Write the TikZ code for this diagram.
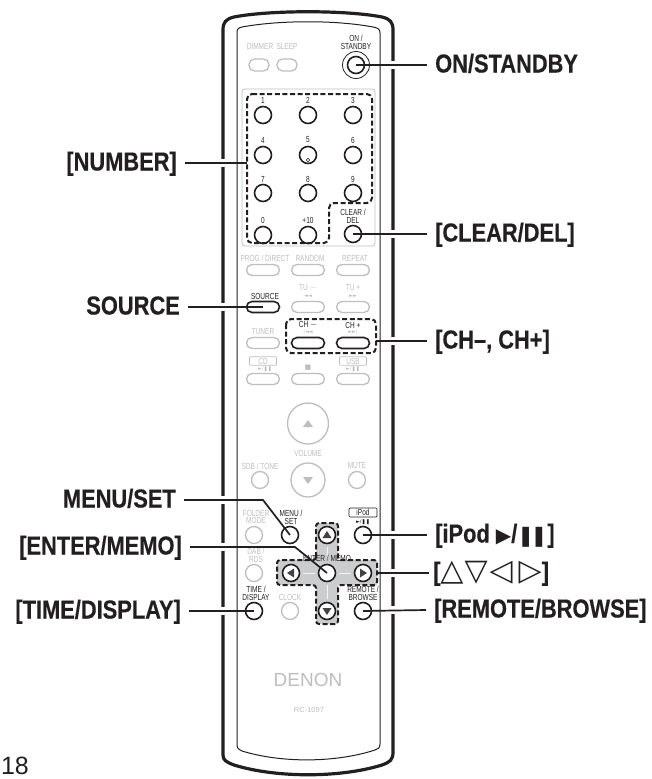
\documentclass[tikz,border=0pt]{standalone}
\usepackage{fontspec}
\usepackage{tikz}
\newfontfamily\lblfont[FakeStretch=.84,FakeBold=.4]{Liberation Sans}
\newfontfamily\tinyfont[FakeStretch=.74]{Liberation Sans}
\newfontfamily\plainfont{Liberation Sans}
\newfontfamily\symfont{DejaVu Sans}
\definecolor{inkblack}{HTML}{231F20}
\definecolor{keygrey}{HTML}{BDBEC0}
\definecolor{crossgrey}{HTML}{CBCCCE}
\tikzset{
  lbl/.style={font=\lblfont\bfseries\fontsize{26}{26}\selectfont, text=inkblack, inner ysep=0pt, inner xsep=8pt, text height=19pt, text depth=4pt},
  lblR/.style={lbl, anchor=west},
  lblL/.style={lbl, anchor=east},
  leader/.style={inkblack, line width=1.7pt},
  keytxt/.style={font=\tinyfont\fontsize{8.8}{7.9}\selectfont, text=inkblack, inner sep=0pt, align=center},
  dimtxt/.style={keytxt, text=keygrey},
  icontxt/.style={font=\symfont\fontsize{5}{6}\selectfont, text=keygrey, inner sep=0pt},
  keyon/.style={circle, draw=inkblack, fill=white, line width=1.6pt, minimum size=17pt, inner sep=0pt},
  keyoff/.style={keyon, draw=keygrey, line width=1.3pt},
  ovalon/.style={rectangle, rounded corners=5.5pt, draw=inkblack, fill=white, line width=1.6pt, minimum width=33pt, minimum height=11pt, inner sep=0pt},
  ovaloff/.style={ovalon, draw=keygrey, line width=1.3pt},
  dashbox/.style={inkblack, line width=2pt, dash pattern=on 5pt off 2.6pt, rounded corners=5pt},
  crossline/.style={draw=white!75!crossgrey, line width=1pt, shorten <=3pt, shorten >=3pt},
}
\begin{document}
\begin{tikzpicture}[x=1pt, y=-1pt]
    \useasboundingbox (0,0) rectangle (652,779);

    \draw[inkblack, line width=3.2pt] (223,755) -- (223,30) .. controls (223,22) and (226,19) .. (234,17) .. controls (270,10) and (346,10) .. (382,17) .. controls (390,19) and (393,22) .. (393,30) -- (393,752) .. controls (393,760) and (390,762) .. (382,765) .. controls (340,778) and (276,778) .. (234,765) .. controls (226,762) and (223,760) .. (223,755) -- cycle;
    \foreach \yy in {163,307,500,547,611}
        \draw[white, line width=8pt] (217,\yy) -- (229,\yy);
    \foreach \yy in {65,234,341,535,573,610}
        \draw[white, line width=8pt] (387,\yy) -- (399,\yy);
    \draw[inkblack, line width=1pt] (237,744) -- (237,33) .. controls (237,29) and (238,28) .. (242,27) .. controls (280,20) and (336,20) .. (373,27) .. controls (378,28) and (380,29) .. (380,33) -- (380,744) .. controls (380,748) and (378,749) .. (375,750) .. controls (335,763) and (281,763) .. (242,751) .. controls (238,749) and (237,748) .. (237,744) -- cycle;

    \draw[keygrey, line width=.8pt, rounded corners=3pt] (242,89) rectangle (375,246);
    \fill[crossgrey] (316,523) -- (338,523) -- (338,560) -- (377,560) -- (377,585) -- (338,585) -- (338,624) -- (316,624) -- (316,585) -- (277,585) -- (277,560) -- (316,560) -- cycle;

    \node[dimtxt] (txtDimmer) at (260,46) {DIMMER};
    \node[dimtxt] (txtSleep) at (287,46) {SLEEP};
    \node[ovaloff, minimum width=20pt, minimum height=12pt] (btnDimmer) at (259,65) {};
    \node[ovaloff, minimum width=20pt, minimum height=12pt] (btnSleep) at (287,65) {};
    \node[keytxt] (txtOn) at (356,42) {ON /\\STANDBY};
    \node[circle, draw=inkblack, line width=.8pt, minimum size=27pt, inner sep=0pt] (ringOn) at (356,65) {};
    \node[keyon] (btnOn) at (356,65) {};

    \node[keytxt] (txtOne) at (263,100) {1};
    \node[keytxt] (txtTwo) at (308,100) {2};
    \node[keytxt] (txtThree) at (353,100) {3};
    \node[keytxt] (txtFour) at (263,140) {4};
    \node[keytxt] (txtFive) at (308,140) {5};
    \node[keytxt] (txtSix) at (353,140) {6};
    \node[keytxt] (txtSeven) at (263,179) {7};
    \node[keytxt] (txtEight) at (308,179) {8};
    \node[keytxt] (txtNine) at (353,179) {9};
    \node[keytxt] (txtZero) at (263,220) {0};
    \node[keytxt] (txtTen) at (308,220) {+10};
    \node[keytxt] (txtClear) at (353,216) {CLEAR /\\DEL};
    \node[keyon] (btnOne) at (263,115) {};
    \node[keyon] (btnTwo) at (308,115) {};
    \node[keyon] (btnThree) at (353,115) {};
    \node[keyon] (btnFour) at (263,155) {};
    \node[keyon] (btnFive) at (308,155) {};
    \node[keyon] (btnSix) at (353,155) {};
    \node[keyon] (btnSeven) at (263,193) {};
    \node[keyon] (btnEight) at (308,193) {};
    \node[keyon] (btnNine) at (353,193) {};
    \node[keyon] (btnZero) at (263,235) {};
    \node[keyon] (btnTen) at (308,235) {};
    \node[keyon] (btnClear) at (353,234) {};
    \node[circle, draw=inkblack, line width=.5pt, minimum size=3.5pt, inner sep=0pt] (dotFive) at (308,160) {};
    \draw[dashbox] (247,94) -- (372,94) -- (372,203) -- (329,203) -- (329,243) -- (247,243) -- cycle;

    \node[dimtxt] (txtProg) at (265,258) {PROG / DIRECT};
    \node[dimtxt] (txtRandom) at (310,258) {RANDOM};
    \node[dimtxt] (txtRepeat) at (355,258) {REPEAT};
    \node[ovaloff] (btnProg) at (263,270) {};
    \node[ovaloff] (btnRandom) at (308,270) {};
    \node[ovaloff] (btnRepeat) at (353,270) {};

    \node[keytxt] (txtSource) at (265,296) {SOURCE};
    \node[dimtxt] (txtTuneDown) at (308,288) {TU $-$};
    \node[dimtxt] (txtTuneUp) at (353,288) {TU +};
    \node[icontxt] (iconTuneDown) at (308,296) {◄◄};
    \node[icontxt] (iconTuneUp) at (353,296) {►►};
    \node[ovalon] (btnSource) at (263,307) {};
    \node[ovaloff] (btnTuneDown) at (308,307) {};
    \node[ovaloff] (btnTuneUp) at (353,307) {};

    \node[dimtxt] (txtTuner) at (263,332) {TUNER};
    \node[keytxt] (txtChDown) at (308,325) {CH $-$};
    \node[keytxt] (txtChUp) at (353,325) {CH +};
    \node[icontxt] (iconChDown) at (308,332) {|◄◄};
    \node[icontxt] (iconChUp) at (353,332) {►►|};
    \node[ovaloff] (btnTuner) at (263,343) {};
    \node[ovalon] (btnChDown) at (308,343) {};
    \node[ovalon] (btnChUp) at (353,343) {};
    \draw[dashbox] (286,319) rectangle (376,353);
    \coordinate (chbox) at (376,341);

    \node[dimtxt, draw=keygrey, line width=.7pt, minimum width=27pt, minimum height=8.5pt, rounded corners=1pt] (txtCd) at (263,361) {CD};
    \node[dimtxt, draw=keygrey, line width=.7pt, minimum width=27pt, minimum height=8.5pt, rounded corners=1pt] (txtUsb) at (353,361) {USB};
    \node[icontxt] (iconCd) at (265,369) {►/❚❚};
    \node[icontxt, font=\symfont\fontsize{7}{7}\selectfont] (iconStop) at (308,368) {■};
    \node[icontxt] (iconUsb) at (353,369) {►/❚❚};
    \node[ovaloff] (btnCd) at (263,379) {};
    \node[ovaloff] (btnStop) at (308,379) {};
    \node[ovaloff] (btnUsb) at (353,379) {};

    \node[keyoff, minimum size=41pt] (btnVolUp) at (308,423.5) {};
    \node[dimtxt] (txtVolume) at (308,453) {VOLUME};
    \node[keyoff, minimum size=34pt] (btnVolDown) at (308,480) {};
    \fill[keygrey] (308,420) -- (313,427) -- (303,427) -- cycle;
    \fill[keygrey] (308,484) -- (313,477) -- (303,477) -- cycle;
    \node[dimtxt] (txtTone) at (260,466) {SDB / TONE};
    \node[dimtxt] (txtMute) at (357,466) {MUTE};
    \node[keyoff] (btnTone) at (260,480) {};
    \node[keyoff] (btnMute) at (357,480) {};

    \node[dimtxt] (txtFolder) at (256,517) {FOLDER\\MODE};
    \node[keytxt] (txtMenu) at (291,517) {MENU /\\SET};
    \node[keytxt, draw=inkblack, line width=.7pt, minimum width=28pt, minimum height=9pt, rounded corners=1pt] (txtIpod) at (363,512.5) {iPod};
    \node[icontxt, text=inkblack] (iconIpod) at (363,522) {►/❚❚};
    \node[keyoff] (btnFolder) at (254,535) {};
    \node[keyon] (btnMenu) at (290,535) {};
    \node[keyon] (btnIpod) at (363,535) {};

    \node[dimtxt] (txtDab) at (256,555.5) {DAB /\\RDS};
    \node[keyoff] (btnDab) at (254,573) {};
    \node[keytxt] (txtTime) at (256,593.5) {TIME /\\DISPLAY};
    \node[dimtxt] (txtClock) at (290,597) {CLOCK};
    \node[keytxt] (txtRemote) at (363,593.5) {REMOTE /\\BROWSE};
    \node[keyon] (btnTime) at (254,611) {};
    \node[keyoff] (btnClock) at (290,611) {};
    \node[keyon] (btnRemote) at (363,611) {};

    \node[keyon] (btnUp) at (327,535) {};
    \node[keyon] (btnLeft) at (291,573) {};
    \node[keyon] (btnEnter) at (327,573) {};
    \node[keyon] (btnRight) at (363,573) {};
    \node[keyon] (btnDown) at (327,611) {};
    \draw[crossline] (btnUp) -- (btnEnter);
    \draw[crossline] (btnEnter) -- (btnDown);
    \draw[crossline] (btnLeft) -- (btnEnter);
    \draw[crossline] (btnEnter) -- (btnRight);
    \fill[inkblack!85] (327,531) -- (331.5,538) -- (322.5,538) -- cycle;
    \fill[inkblack!85] (327,615) -- (331.5,608) -- (322.5,608) -- cycle;
    \fill[inkblack!85] (287,573) -- (294,568.5) -- (294,577.5) -- cycle;
    \fill[inkblack!85] (367,573) -- (360,568.5) -- (360,577.5) -- cycle;
    \draw[dashbox, rounded corners=3pt] (316,560) -- (316,523) -- (338,523) -- (338,560) -- (377,560) -- (377,585) -- (338,585) -- (338,624) -- (316,624) -- (316,585) -- (277,585) -- (277,560) -- cycle;
    \node[keytxt] (txtEnter) at (327,558) {ENTER / MEMO};
    \coordinate (crossbox) at (377,573);

    \node[font=\plainfont\fontsize{19}{19}\selectfont, text=keygrey, inner sep=0pt] (txtBrand) at (308,680) {DENON};
    \node[font=\plainfont\fontsize{7.5}{8}\selectfont, text=keygrey, inner sep=0pt] (txtModel) at (309,710) {RC-1097};
    \node[font=\plainfont\fontsize{25}{25}\selectfont, text=inkblack, inner sep=0pt] (txtPage) at (15,766) {18};

    \node[lblR] (lblOn) at (427,65) {ON/STANDBY};
    \node[lblR] (lblClear) at (427,234) {[CLEAR/DEL]};
    \node[lblR] (lblCh) at (427,341) {[CH–, CH+]};
    \node[lblR] (lblIpod) at (427,535) {[iPod {\symfont\fontsize{20}{20}\selectfont▶}/{\symfont\fontsize{20}{20}\selectfont❚\kern-3.5pt❚}]};
    \node[lblR, inner xsep=4pt] (lblCross) at (429,573) {[{\symfont\fontsize{30}{30}\selectfont△\kern1pt▽\kern2pt◁\kern6pt▷}]};
    \node[lblR] (lblRemote) at (426,610) {[REMOTE/BROWSE]};
    \node[lblL] (lblNumber) at (185,163) {[NUMBER]};
    \node[lblL] (lblSource) at (188,307) {SOURCE};
    \node[lblL] (lblMenu) at (184,500) {MENU/SET};
    \node[lblL] (lblEnter) at (190,547) {[ENTER/MEMO]};
    \node[lblL] (lblTime) at (189,611) {[TIME/DISPLAY]};

    \coordinate (numbox) at (247,163);
    \coordinate (menubend) at (263,500);
    \coordinate (enterbend) at (295,547);
    \draw[leader] (btnOn.center) -- (lblOn.west);
    \draw[leader] (btnClear.center) -- (lblClear.west);
    \draw[leader] (chbox) -- (lblCh.west);
    \draw[leader] (btnIpod.center) -- (lblIpod.west);
    \draw[leader] (crossbox) -- (lblCross.west);
    \draw[leader] (btnRemote.center) -- (lblRemote.west);
    \draw[leader] (lblNumber.east) -- (numbox);
    \draw[leader] (lblSource.east) -- (btnSource.center);
    \draw[leader] (lblMenu.east) -- (menubend) -- (btnMenu.center);
    \draw[leader] (lblEnter.east) -- (enterbend) -- (btnEnter.center);
    \draw[leader] (lblTime.east) -- (btnTime.center);
\end{tikzpicture}
\end{document}
